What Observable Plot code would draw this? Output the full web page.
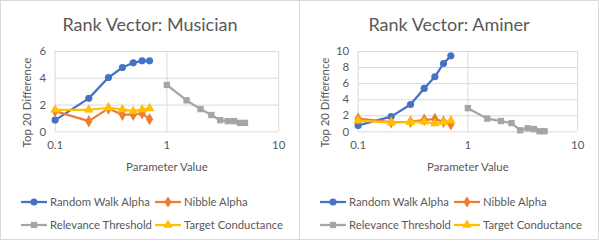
<!DOCTYPE html>
<html><head><meta charset="utf-8">
<script src="https://cdn.jsdelivr.net/npm/d3@7"></script>
<script src="https://cdn.jsdelivr.net/npm/@observablehq/plot@0.6"></script>
<style>
html,body{margin:0;padding:0;background:#fff;}
#wrap{position:relative;width:599px;height:242px;font-family:Lato,"Open Sans",sans-serif;color:#595959;}
.panel{position:absolute;top:0;height:240px;border:1px solid #d9d9d9;box-sizing:border-box;}
.title{position:absolute;left:0;right:0;top:12px;text-align:center;font-size:18px;line-height:22px;color:#595959;}
.plot{position:absolute;top:40px;left:0;}
.leg{position:absolute;font-size:11.3px;line-height:14px;color:#595959;white-space:nowrap;display:flex;align-items:center;}
.leg svg{margin-right:2px;}
</style></head>
<body><div id="wrap"></div>
<script>
const xAlpha = [0.1, 0.2, 0.3, 0.4, 0.5, 0.6, 0.7];
const xRelevance = [1, 1.5, 2, 2.5, 3, 3.5, 4, 4.5, 5];
const xTicks = [0.1, 1, 10];

const musicianRandomWalk = [0.88, 2.5, 4.05, 4.8, 5.15, 5.3, 5.3];
const musicianNibble = [1.55, 0.8, 1.75, 1.28, 1.28, 1.38, 0.95];
const musicianConductance = [1.65, 1.65, 1.8, 1.68, 1.55, 1.67, 1.75];
const musicianRelevance = [3.5, 2.35, 1.7, 1.26, 0.87, 0.8, 0.8, 0.67, 0.67];
const musicianYTicks = [0, 2, 4, 6];

const aminerRandomWalk = [0.8, 1.9, 3.4, 5.4, 6.85, 8.5, 9.45];
const aminerNibble = [1.65, 1.2, 1.25, 1.5, 1.6, 1.25, 0.95];
const aminerConductance = [1.4, 1.15, 1.2, 1.25, 1.05, 1.2, 1.4];
const aminerRelevance = [2.95, 1.65, 1.35, 1.1, 0.2, 0.45, 0.35, 0.08, 0.08];
const aminerYTicks = [0, 2, 4, 6, 8, 10];

const seriesNames = ["Random Walk Alpha", "Nibble Alpha", "Relevance Threshold", "Target Conductance"];
const seriesColors = ["#4472C4", "#ED7D31", "#A5A5A5", "#FFC000"];
const seriesSymbols = ["circle", "diamond", "square", "triangle"];
const d3Symbols = {circle: d3.symbolCircle, diamond: d3.symbolDiamond, square: d3.symbolSquare, triangle: d3.symbolTriangle};

function rows(xs, ys){ return xs.map((x,i)=>({x, y: ys[i]})); }

function makePanel(left, width, title, ml, yTicks, yMax, rw, nb, rel, tc, labelDx){
  const panel = document.createElement("div");
  panel.className = "panel";
  panel.style.left = left + "px";
  panel.style.width = width + "px";
  const t = document.createElement("div");
  t.className = "title"; t.textContent = title;
  panel.appendChild(t);
  const series = [rows(xAlpha, rw), rows(xAlpha, nb), rows(xRelevance, rel), rows(xAlpha, tc)];
  const marks = [
    Plot.gridX(xTicks, {stroke: "#d9d9d9", strokeOpacity: 1}),
    Plot.gridY(yTicks, {stroke: "#d9d9d9", strokeOpacity: 1}),
    Plot.axisX(xTicks, {tickSize: 0, tickPadding: 9, tickFormat: d => String(d), fill: "#595959", fontSize: 11.5, label: null}),
    Plot.axisY(yTicks, {tickSize: 0, tickPadding: 9, fill: "#595959", fontSize: 11.5, label: null}),
    Plot.text(["Parameter Value"], {frameAnchor: "bottom", dy: 36, text: d => d, fill: "#595959", fontSize: 11.5, lineAnchor: "middle", textAnchor: "middle"}),
    Plot.text(["Top 20 Difference"], {frameAnchor: "left", dx: labelDx, dy: 11, rotate: -90, text: d => d, fill: "#595959", fontSize: 11.5, lineAnchor: "middle", textAnchor: "middle"})
  ];
  series.forEach((data, i) => {
    marks.push(Plot.line(data, {x: "x", y: "y", stroke: seriesColors[i], strokeWidth: 2.25}));
    marks.push(Plot.dot(data, {x: "x", y: "y", symbol: () => seriesSymbols[i], fill: seriesColors[i], r: i === 1 ? 3.8 : 3.6, stroke: "none"}));
  });
  const chart = Plot.plot({
    width: width, height: 140,
    marginLeft: ml, marginRight: 21, marginTop: 10, marginBottom: 49,
    style: {fontFamily: "Lato, 'Open Sans', sans-serif", fontSize: "11.5px", color: "#595959", background: "transparent", overflow: "visible"},
    x: {type: "log", domain: [0.1, 10]},
    y: {domain: [0, yMax]},
    symbol: {type: "identity"},
    marks
  });
  chart.classList.add("plot");
  panel.appendChild(chart);
  const pos = [[19, 194], [153, 194], [19, 217], [153, 217]];
  seriesNames.forEach((name, i) => {
    const item = document.createElement("div");
    item.className = "leg";
    item.style.left = pos[i][0] + "px";
    item.style.top = pos[i][1] + "px";
    const sym = d3.symbol(d3Symbols[seriesSymbols[i]], 40)();
    item.innerHTML = `<svg width="28" height="10"><line x1="1" x2="27" y1="5" y2="5" stroke="${seriesColors[i]}" stroke-width="2.25"/><path d="${sym}" transform="translate(14,5)" fill="${seriesColors[i]}"/></svg><span>${name}</span>`;
    panel.appendChild(item);
  });
  document.getElementById("wrap").appendChild(panel);
}

makePanel(0, 300, "Rank Vector: Musician", 54, musicianYTicks, 6, musicianRandomWalk, musicianNibble, musicianRelevance, musicianConductance, -28);
makePanel(299, 300, "Rank Vector: Aminer", 58, aminerYTicks, 10, aminerRandomWalk, aminerNibble, aminerRelevance, aminerConductance, -33);
</script></body></html>
